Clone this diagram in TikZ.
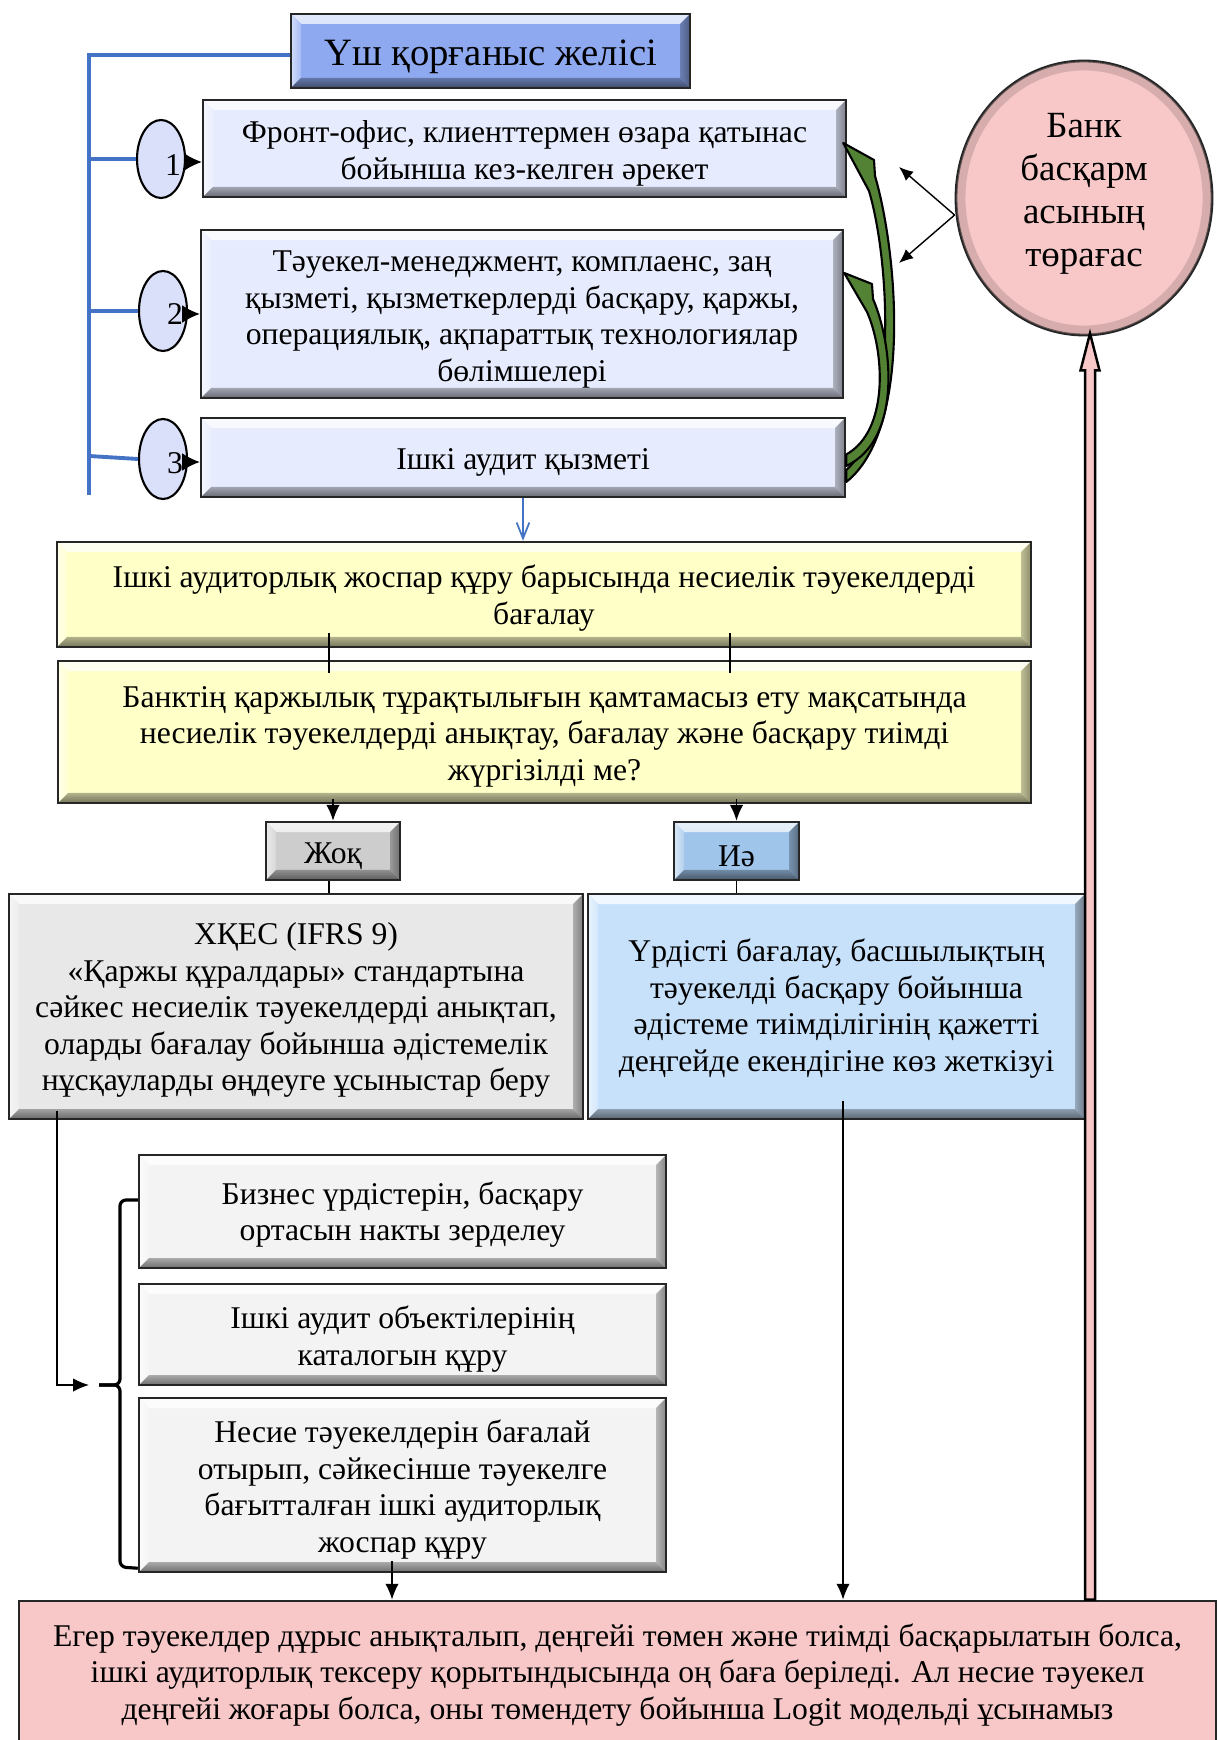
\documentclass[tikz,border=0pt]{standalone}
\usepackage{fontspec}
\setmainfont{Liberation Serif}
\usetikzlibrary{shapes.geometric,arrows.meta,calc}

\definecolor{ttl}{RGB}{142,169,240}
\definecolor{lav}{RGB}{230,235,253}
\definecolor{ell}{RGB}{218,224,250}
\definecolor{yel}{RGB}{255,255,200}
\definecolor{gno}{RGB}{205,205,205}
\definecolor{byes}{RGB}{160,197,235}
\definecolor{gbig}{RGB}{232,232,232}
\definecolor{bbig}{RGB}{200,225,250}
\definecolor{gsml}{RGB}{243,243,243}
\definecolor{pinkc}{RGB}{248,200,200}
\definecolor{grn}{RGB}{84,130,53}
\definecolor{bln}{RGB}{68,114,196}

\newcommand\bevw{0.1cm}
\newcommand\bodyfs{\fontsize{9}{10.4}\selectfont}
\newcommand\ttlfs{\fontsize{11}{13}\selectfont}
\newcommand\chfs{\fontsize{10.5}{12.2}\selectfont}
% struts that nudge a text block inside its box
\newcommand\topstrut{\rule{0pt}{0.97em}}
\newcommand\lowr[1]{\rule{0pt}{#1}}
\newcommand\deepr[1]{\rule[-#1]{0pt}{#1}}

\tikzset{
  sz/.style 2 args={minimum width=#1*0.01cm, minimum height=#2*0.01cm},
  bev/.style={fill=#1, draw=black!85, line width=0.7pt, inner sep=0pt, align=center,
    execute at begin node=\topstrut,
    path picture={
      \shade[top color=#1!25!white, bottom color=#1!70!white]
        (path picture bounding box.north west) -- (path picture bounding box.north east)
        -- ([xshift=-\bevw,yshift=-\bevw]path picture bounding box.north east)
        -- ([xshift=\bevw,yshift=-\bevw]path picture bounding box.north west) -- cycle;
      \shade[left color=#1!40!white, right color=#1!80!white]
        (path picture bounding box.north west)
        -- ([xshift=\bevw,yshift=-\bevw]path picture bounding box.north west)
        -- ([xshift=\bevw,yshift=\bevw]path picture bounding box.south west)
        -- (path picture bounding box.south west) -- cycle;
      \shade[left color=#1!75!black, right color=#1!55!black]
        (path picture bounding box.north east)
        -- ([xshift=-\bevw,yshift=-\bevw]path picture bounding box.north east)
        -- ([xshift=-\bevw,yshift=\bevw]path picture bounding box.south east)
        -- (path picture bounding box.south east) -- cycle;
      \shade[top color=#1!70!black, bottom color=#1!45!black]
        (path picture bounding box.south west)
        -- ([xshift=\bevw,yshift=\bevw]path picture bounding box.south west)
        -- ([xshift=-\bevw,yshift=\bevw]path picture bounding box.south east)
        -- (path picture bounding box.south east) -- cycle;
    }},
  flatbox/.style={fill=#1, draw=black!85, line width=0.8pt, inner sep=0pt, align=center},
  numell/.style={ellipse, draw=black, fill=ell, line width=0.6pt, inner sep=0pt},
  blueln/.style={draw=bln, line width=1.1pt},
  arr/.style={draw=black, line width=0.4pt, -{Latex[length=4.5pt,width=3.8pt]}},
  thin/.style={draw=black, line width=0.4pt},
  greenarrow/.style={fill=grn, draw=black, line width=0.6pt, line join=round},
}

\begin{document}
\begin{tikzpicture}[x=0.01cm, y=-0.01cm, font=\bodyfs]
\useasboundingbox (0,0) rectangle (1218,1740);
\fill[white] (0,0) rectangle (1218,1740);

% ---- three lines of defence ----
\node[bev=ttl, sz={399}{74}, font=\ttlfs] (title) at (490.5,51) {Үш қорғаныс желісі};
\node[bev=lav, sz={643}{97}] (f1) at (524.5,148.5)
  {\lowr{9pt}Фронт-офис, клиенттермен өзара қатынас\\бойынша кез-келген әрекет};
\node[bev=lav, sz={642}{168}] (f2) at (522,314)
  {\lowr{9pt}Тәуекел-менеджмент, комплаенс, заң\\қызметі, қызметкерлерді басқару, қаржы,\\операциялық, ақпараттық технологиялар\\бөлімшелері};
\node[bev=lav, sz={644}{79}] (f3) at (523,457.5) {Ішкі аудит қызметі};

\node[numell, sz={48}{78}] (c1) at (161,159) {};
\node[numell, sz={48}{80}] (c2) at (163,311) {};
\node[numell, sz={48}{80}] (c3) at (163,459) {};
\node (n1) at (173,165) {1};
\node (n2) at (175,314) {2};
\node (n3) at (175,463) {3};

% blue bracket tying the lines together
\coordinate (trunktop) at (89,55);
\coordinate (trunkend) at (89,495);
\draw[blueln] ([yshift=-0.04cm]title.west) -- (trunktop) -- (trunkend);
\draw[blueln] (c1.west -| trunktop) -- (c1.west);
\draw[blueln] (c2.west -| trunktop) -- (c2.west);
\draw[blueln] ([yshift=0.03cm]c3.west -| trunktop) -- (c3.west);

\foreach \c/\f in {c1/f1,c2/f2,c3/f3}
  \draw[thin, -{Latex[length=5pt,width=5pt]}] ([yshift=-0.03cm]\c.east) -- ([yshift=-0.03cm]\c.east -| \f.west);

% ---- chairman ----
\node[ellipse, draw=black!85, line width=0.8pt, fill=pinkc, sz={256}{274}, inner sep=0pt,
      align=center, font=\chfs] (chair) at (1084,198)
  {Банк\\басқарм\\асының\\төрағас\deepr{4.6pt}};
\draw[pinkc!70!black, opacity=0.45, line width=0.09cm] (chair.center) ellipse [x radius=1.23cm, y radius=1.32cm];

\coordinate (cha) at ([yshift=-0.17cm]chair.west);
\coordinate (t1) at (899,167);
\coordinate (t2) at (899,263);
\draw[thin, -{Latex[length=4pt,width=3.4pt]}] (cha) -- (t1);
\draw[thin, -{Latex[length=4pt,width=3.4pt]}] (cha) -- (t2);

% ---- green curved arrows from internal audit to the other lines ----
\coordinate (g1tip) at ($(f1.east)+(-4,-5.5)$);
\coordinate (g1lo) at ($(f3.east)+(0,24.5)$);
\coordinate (g1hi) at ($(f3.east)+(0,12.5)$);
\path[greenarrow] (g1tip) -- (874,160) -- (875,176)
  .. controls (898,255) and (912,430) .. (g1lo)
  -- (g1hi) .. controls (898,425) and (890,262) .. (869,191) -- cycle;

\coordinate (g2tip) at ($(f2.east)+(0,-41)$);
\coordinate (g2lo) at ($(f3.east)+(0,8.5)$);
\coordinate (g2hi) at ($(f3.east)+(0,-3)$);
\path[greenarrow] (g2tip) -- (872,284) -- (873,299)
  .. controls (893,345) and (902,440) .. (g2lo)
  -- (g2hi) .. controls (890,430) and (884,350) .. (867,312) -- cycle;

% ---- assessment questions ----
\node[bev=yel, sz={974}{105}] (y1) at (544,594.5)
  {\lowr{8.6pt}Ішкі аудиторлық жоспар құру барысында несиелік тәуекелдерді\\бағалау};
\node[bev=yel, sz={973}{142}] (y2) at (544.5,732)
  {\lowr{8.5pt}Банктің қаржылық тұрақтылығын қамтамасыз ету мақсатында\\несиелік тәуекелдерді анықтау, бағалау және басқару тиімді\\жүргізілді ме?};

\draw[draw=bln, line width=0.5pt, -{Straight Barb[length=4.5pt,width=3.6pt]}] (f3.south) -- (f3.south |- y1.north);

\node[bev=gno, sz={134}{58}] (no) at (333,851) {Жоқ};
\node[bev=byes, sz={125}{58}] (yes) at (736.5,851) {Иә};

\draw[thin] ([yshift=0.15cm]y1.south -| 329,0) -- ([yshift=-0.13cm]y2.north -| 329,0);
\draw[thin] ([yshift=0.15cm]y1.south -| 730,0) -- ([yshift=-0.13cm]y2.north -| 730,0);
\draw[arr] ([yshift=0.05cm]y2.south -| no.north) -- (no.north);
\draw[arr] ([yshift=0.05cm]y2.south -| yes.north) -- (yes.north);

% ---- outcomes ----
\node[bev=gbig, sz={574}{225}] (gbox) at (296,1006.5)
  {\lowr{8.3pt}ХҚЕС (IFRS 9)\\«Қаржы құралдары» стандартына\\сәйкес несиелік тәуекелдерді анықтап,\\оларды бағалау бойынша әдістемелік\\нұсқауларды өңдеуге ұсыныстар беру};
\node[bev=bbig, sz={497}{225}] (bbox) at (836.5,1006.5)
  {\lowr{7.7pt}Үрдісті бағалау, басшылықтың\\тәуекелді басқару бойынша\\әдістеме тиімділігінің қажетті\\деңгейде екендігіне көз жеткізуі};

\draw[thin] ([xshift=-0.04cm]no.south) -- ([xshift=-0.04cm]no.south |- gbox.north);
\draw[thin] (yes.south) -- (yes.south |- bbox.north);

\node[bev=gsml, sz={527}{113}] (s1) at (402.5,1211.5)
  {\lowr{8.3pt}Бизнес үрдістерін, басқару\\ортасын накты зерделеу};
\node[bev=gsml, sz={527}{101}] (s2) at (402.5,1334.5)
  {\lowr{9pt}Ішкі аудит объектілерінің\\каталогын құру};
\node[bev=gsml, sz={527}{174}] (s3) at (402.5,1485)
  {\lowr{9pt}Несие тәуекелдерін бағалай\\отырып, сәйкесінше тәуекелге\\бағытталған ішкі аудиторлық\\жоспар құру};

% brace grouping the three steps
\draw[line width=0.9pt, rounded corners=0.06cm]
  ($(s1.west)+(0,-11.5)$) -- (120,1200) -- (120,1385) -- (99,1385);
\draw[line width=0.9pt, rounded corners=0.06cm]
  (99,1385) -- (120,1385) -- (120,1567) -- ($(s3.south west)+(0,-5)$);
\coordinate (bracein) at (89,1385);
\draw[arr] ([xshift=0.49cm,yshift=0.09cm]gbox.south west) |- (bracein);

% ---- conclusion ----
\node[flatbox=pinkc, sz={1197}{148}] (fin) at (617.5,1675)
  {Егер тәуекелдер дұрыс анықталып, деңгейі төмен және тиімді басқарылатын болса,\\ішкі аудиторлық тексеру қорытындысында оң баға беріледі. Ал несие тәуекел\\деңгейі жоғары болса, оны төмендету бойынша Logit модельді ұсынамыз};

\coordinate (bdown) at ([xshift=0.065cm,yshift=0.19cm]bbox.south);
\draw[arr] (bdown) -- (bdown |- fin.north);
\coordinate (sdown) at ([xshift=-0.105cm,yshift=0.12cm]s3.south);
\draw[arr] (sdown) -- (sdown |- fin.north);

% hollow block arrow from the conclusion up to the chairman
\coordinate (pa) at ($(fin.north -| 1090,0)$);
\coordinate (pb) at ($(chair.south -| 1090,0)+(0,-3)$);
\path[fill=pinkc, draw=black, line width=0.7pt, line join=miter]
  ($(pa)+(-5,0)$) -- ($(pb)+(-5,37)$) -- ($(pb)+(-9.5,37)$) -- (pb)
  -- ($(pb)+(9.5,37)$) -- ($(pb)+(5,37)$) -- ($(pa)+(5,0)$) -- cycle;
\end{tikzpicture}
\end{document}
